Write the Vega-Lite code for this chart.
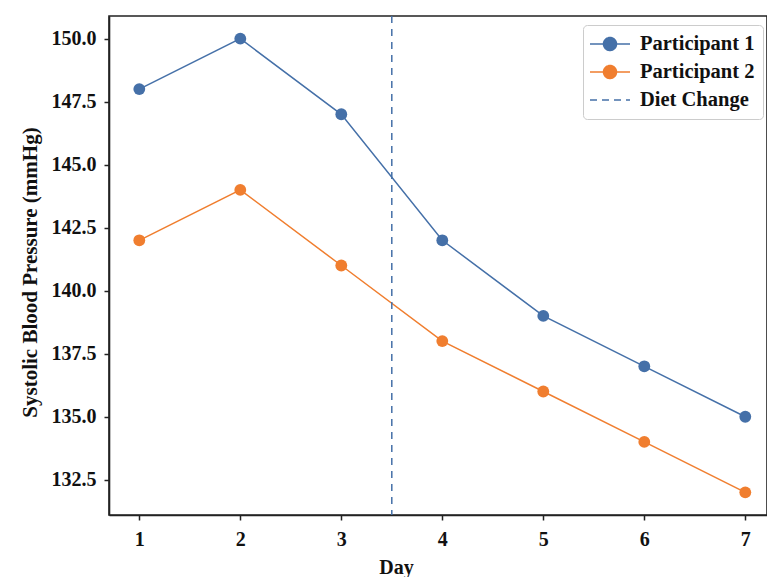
{
  "$schema": "https://vega.github.io/schema/vega-lite/v6.json",
  "width": 658,
  "height": 499,
  "autosize": {"type": "none"},
  "padding": {"left": 109, "top": 16, "right": 0, "bottom": 62},
  "background": "white",
  "config": {
    "view": {"stroke": "#222222", "strokeWidth": 1.6},
    "font": "Liberation Serif"
  },
  "layer": [
    {
      "data": {
        "values": [
          {"day": 1, "bp": 148, "participant": "Participant 1"},
          {"day": 2, "bp": 150, "participant": "Participant 1"},
          {"day": 3, "bp": 147, "participant": "Participant 1"},
          {"day": 4, "bp": 142, "participant": "Participant 1"},
          {"day": 5, "bp": 139, "participant": "Participant 1"},
          {"day": 6, "bp": 137, "participant": "Participant 1"},
          {"day": 7, "bp": 135, "participant": "Participant 1"},
          {"day": 1, "bp": 142, "participant": "Participant 2"},
          {"day": 2, "bp": 144, "participant": "Participant 2"},
          {"day": 3, "bp": 141, "participant": "Participant 2"},
          {"day": 4, "bp": 138, "participant": "Participant 2"},
          {"day": 5, "bp": 136, "participant": "Participant 2"},
          {"day": 6, "bp": 134, "participant": "Participant 2"},
          {"day": 7, "bp": 132, "participant": "Participant 2"}
        ]
      },
      "mark": {"type": "line", "strokeWidth": 1.5, "point": {"filled": true, "size": 140, "opacity": 1}},
      "encoding": {
        "x": {
          "field": "day", "type": "quantitative",
          "scale": {"domain": [0.7, 7.215], "nice": false, "zero": false},
          "axis": {
            "values": [1, 2, 3, 4, 5, 6, 7], "format": "d", "title": "Day", "grid": false,
            "labelFont": "Liberation Serif", "labelFontSize": 20, "labelFontWeight": "bold", "labelColor": "#111111",
            "labelAngle": 0, "labelPadding": 9, "labelOverlap": false,
            "tickSize": 5, "tickWidth": 1.5, "tickColor": "#222222",
            "domainColor": "#222222", "domainWidth": 1.6,
            "titleFont": "Liberation Serif", "titleFontSize": 20, "titleFontWeight": "bold", "titleColor": "#111111",
            "titleX": 287, "titleY": 58, "titleBaseline": "alphabetic"
          }
        },
        "y": {
          "field": "bp", "type": "quantitative",
          "scale": {"domain": [131.1, 150.9], "nice": false, "zero": false},
          "axis": {
            "values": [132.5, 135, 137.5, 140, 142.5, 145, 147.5, 150], "format": ".1f",
            "title": "Systolic Blood Pressure (mmHg)", "grid": false,
            "labelFont": "Liberation Serif", "labelFontSize": 20, "labelFontWeight": "bold", "labelColor": "#111111",
            "labelPadding": 8, "labelOverlap": false,
            "tickSize": 5, "tickWidth": 1.5, "tickColor": "#222222",
            "domainColor": "#222222", "domainWidth": 1.6,
            "titleFont": "Liberation Serif", "titleFontSize": 21, "titleFontWeight": "bold", "titleColor": "#111111",
            "titleX": -73, "titleY": 256, "titleBaseline": "alphabetic", "titleAngle": -90
          }
        },
        "color": {
          "field": "participant", "type": "nominal",
          "scale": {"domain": ["Participant 1", "Participant 2", "Diet Change"], "range": ["#4570a8", "#f07e2f", "#4570a8"]},
          "legend": {
            "title": null, "orient": "none", "legendX": 474, "legendY": 9, "direction": "vertical",
            "padding": 8, "strokeColor": "#cccccc", "cornerRadius": 4, "fillColor": "white",
            "labelFont": "Liberation Serif", "labelFontSize": 20.5, "labelFontWeight": "bold", "labelColor": "#111111",
            "labelLimit": 300, "symbolSize": 400, "symbolStrokeWidth": 1.5, "symbolOffset": 8, "labelOffset": 19, "rowPadding": 6,
            "encode": {
              "symbols": {
                "update": {
                  "shape": [
                    {"test": "datum.value === 'Diet Change'", "value": "M-2,0L2,0"},
                    {"value": "M-2,0L2,0M-0.65,0A0.65,0.65,0,1,1,0.65,0A0.65,0.65,0,1,1,-0.65,0Z"}
                  ],
                  "fill": [
                    {"test": "datum.value === 'Diet Change'", "value": "transparent"},
                    {"scale": "color", "field": "value"}
                  ],
                  "stroke": {"scale": "color", "field": "value"},
                  "strokeDash": [
                    {"test": "datum.value === 'Diet Change'", "value": [7, 5]},
                    {"value": [1, 0]}
                  ],
                  "opacity": {"value": 1}
                }
              }
            }
          }
        }
      }
    },
    {
      "data": {"values": [{"day": 3.5, "label": "Diet Change"}]},
      "mark": {"type": "rule", "strokeDash": [7, 6], "strokeWidth": 1.5},
      "encoding": {
        "x": {"field": "day", "type": "quantitative"},
        "color": {"field": "label", "type": "nominal"}
      }
    }
  ]
}
